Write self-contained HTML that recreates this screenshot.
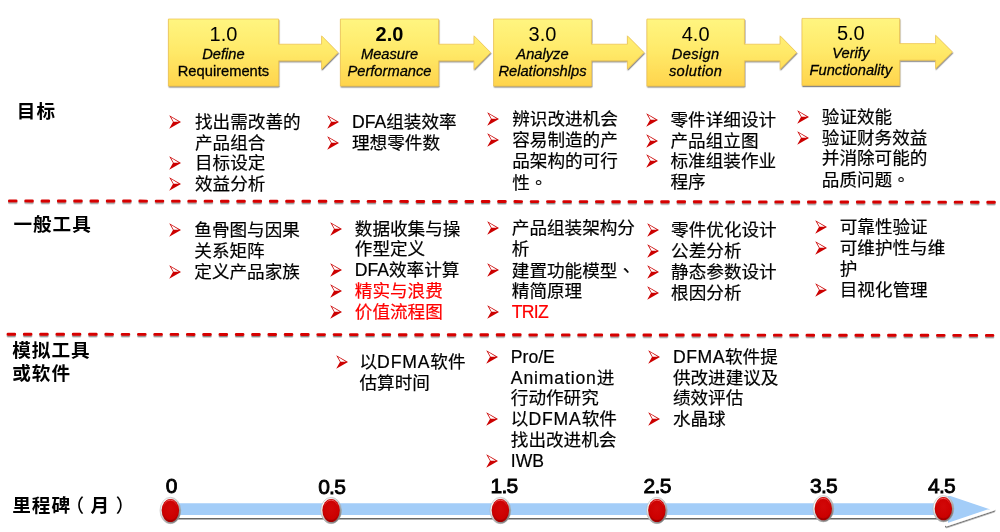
<!DOCTYPE html>
<html lang="zh-CN">
<head>
<meta charset="utf-8">
<title>DFMA 流程</title>
<style>
html,body{margin:0;padding:0;background:#fff;}
body{width:1000px;height:532px;position:relative;overflow:hidden;font-family:"Liberation Sans","Noto Sans CJK SC",sans-serif;color:#000;}
#shapes{position:absolute;left:0;top:0;}
#txt{position:absolute;left:0;top:0;width:1000px;height:532px;will-change:transform;}
.t{position:absolute;font-size:17.6px;line-height:20.8px;height:20.8px;white-space:nowrap;-webkit-text-stroke:0.2px currentColor;}
.r{color:#ff0000;}
.pl,.pr{position:relative;font-weight:500;}
.pl{left:-0.30em;}
.pr{left:0.30em;}
.w{letter-spacing:0.85px;}
.w2{letter-spacing:0.55px;}
.nr{letter-spacing:-0.7px;}
.tc{font-family:"Noto Sans CJK TC",sans-serif;}
.b{position:absolute;overflow:visible;}
.b path{fill:#cc0000;}
.b path.h{fill:#fff;}
.lab{position:absolute;font-size:18.6px;line-height:24px;height:24px;font-weight:bold;white-space:nowrap;letter-spacing:1.0px;}
.tl{position:absolute;width:60px;text-align:center;font-size:21px;line-height:24px;height:24px;font-weight:normal;-webkit-text-stroke:0.85px #000;white-space:nowrap;letter-spacing:-0.7px;}
.bx{position:absolute;text-align:center;white-space:nowrap;}
.bx .s{-webkit-text-stroke:0.3px #000;}
.bx .s.x{letter-spacing:0.35px;}
.bx .n{font-size:20px;line-height:22px;margin-top:4px;margin-bottom:0.8px;}
.bx .n.bd{font-weight:bold;}
.bx .s{font-size:14.7px;line-height:16.8px;}
</style>
</head>
<body>
<svg id="shapes" width="1000" height="532" viewBox="0 0 1000 532">
<defs>
<linearGradient id="yg" x1="0" y1="0" x2="0" y2="1">
<stop offset="0" stop-color="#fff580"/><stop offset="0.5" stop-color="#ffe968"/><stop offset="1" stop-color="#ffd44c"/>
</linearGradient>
<radialGradient id="rg" cx="0.5" cy="0.4" r="0.62">
<stop offset="0" stop-color="#d20808"/><stop offset="0.75" stop-color="#cc0000"/><stop offset="1" stop-color="#9a0000"/>
</radialGradient>
<linearGradient id="gl" x1="0" y1="0" x2="0" y2="1">
<stop offset="0" stop-color="#ff8a8a" stop-opacity="0.75"/><stop offset="0.35" stop-color="#e03030" stop-opacity="0"/><stop offset="0.7" stop-color="#a00000" stop-opacity="0"/><stop offset="1" stop-color="#800000" stop-opacity="0.6"/>
</linearGradient>
<linearGradient id="ring" x1="0.15" y1="0.1" x2="0.85" y2="0.9">
<stop offset="0" stop-color="#ffffff"/><stop offset="0.45" stop-color="#d0d0d0"/><stop offset="1" stop-color="#707070"/>
</linearGradient>
<filter id="sh" x="-10%" y="-10%" width="120%" height="130%"><feDropShadow dx="0.5" dy="1.2" stdDeviation="0.7" flood-color="#000" flood-opacity="0.55"/></filter>
<filter id="sh2" x="0" y="190" width="1000" height="160" filterUnits="userSpaceOnUse"><feDropShadow dx="0" dy="1.4" stdDeviation="0.7" flood-color="#000" flood-opacity="0.45"/></filter>
<filter id="sh3" x="-10%" y="-20%" width="120%" height="150%"><feDropShadow dx="0" dy="1.5" stdDeviation="0.6" flood-color="#000" flood-opacity="0.6"/></filter>
</defs>
<path d="M168.4 19 H278.6 V44.2 H321.6 V35.8 L338 52.5 L321.6 69.2 V60.8 H278.6 V86 H168.4 Z" fill="url(#yg)" stroke="#ecc04a" stroke-width="0.7" filter="url(#sh)"/>
<path d="M340.4 19 H438.6 V44.2 H474 V35.8 L490.6 52.5 L474 69.2 V60.8 H438.6 V86 H340.4 Z" fill="url(#yg)" stroke="#ecc04a" stroke-width="0.7" filter="url(#sh)"/>
<path d="M493.6 19 H591.4 V44.2 H627.4 V35.8 L644 52.5 L627.4 69.2 V60.8 H591.4 V86 H493.6 Z" fill="url(#yg)" stroke="#ecc04a" stroke-width="0.7" filter="url(#sh)"/>
<path d="M646.9 19 H744.4 V44.2 H780.1 V35.8 L796.6 52.5 L780.1 69.2 V60.8 H744.4 V86 H646.9 Z" fill="url(#yg)" stroke="#ecc04a" stroke-width="0.7" filter="url(#sh)"/>
<path d="M802 18.4 H899.6 V43.6 H935.6 V35.2 L952.4 51.9 L935.6 68.6 V60.2 H899.6 V85.4 H802 Z" fill="url(#yg)" stroke="#ecc04a" stroke-width="0.7" filter="url(#sh)"/>
<g filter="url(#sh2)"><line x1="9.4" y1="200.9" x2="994.4" y2="202.2" stroke="#d60000" stroke-width="2.9" stroke-linecap="round" stroke-dasharray="6.7 9.606"/></g>
<g filter="url(#sh2)"><line x1="8.0" y1="334.2" x2="992.9" y2="335.4" stroke="#d60000" stroke-width="2.9" stroke-linecap="round" stroke-dasharray="6.7 9.606"/></g>
<path d="M166 501.7 H946.5 V493.2 L993.85 509 L946.5 524.8 V516.4 H166 Z" fill="#a3cdf8" stroke="#ffffff" stroke-width="3" stroke-linejoin="round" filter="url(#sh3)"/>
<ellipse cx="170.4" cy="510.5" rx="10.4" ry="13.2" fill="url(#ring)" stroke="#aaa" stroke-width="0.5"/>
<ellipse cx="170.4" cy="510.5" rx="8.7" ry="11.6" fill="url(#rg)"/>
<ellipse cx="170.4" cy="510.5" rx="7.6" ry="10.4" fill="none" stroke="url(#gl)" stroke-width="0.9"/>
<ellipse cx="331.1" cy="510.5" rx="10.4" ry="13.2" fill="url(#ring)" stroke="#aaa" stroke-width="0.5"/>
<ellipse cx="331.1" cy="510.5" rx="8.7" ry="11.6" fill="url(#rg)"/>
<ellipse cx="331.1" cy="510.5" rx="7.6" ry="10.4" fill="none" stroke="url(#gl)" stroke-width="0.9"/>
<ellipse cx="500.4" cy="510.5" rx="10.4" ry="13.2" fill="url(#ring)" stroke="#aaa" stroke-width="0.5"/>
<ellipse cx="500.4" cy="510.5" rx="8.7" ry="11.6" fill="url(#rg)"/>
<ellipse cx="500.4" cy="510.5" rx="7.6" ry="10.4" fill="none" stroke="url(#gl)" stroke-width="0.9"/>
<ellipse cx="656.9" cy="510.5" rx="10.4" ry="13.2" fill="url(#ring)" stroke="#aaa" stroke-width="0.5"/>
<ellipse cx="656.9" cy="510.5" rx="8.7" ry="11.6" fill="url(#rg)"/>
<ellipse cx="656.9" cy="510.5" rx="7.6" ry="10.4" fill="none" stroke="url(#gl)" stroke-width="0.9"/>
<ellipse cx="823.3" cy="508.7" rx="10.4" ry="13.2" fill="url(#ring)" stroke="#aaa" stroke-width="0.5"/>
<ellipse cx="823.3" cy="508.7" rx="8.7" ry="11.6" fill="url(#rg)"/>
<ellipse cx="823.3" cy="508.7" rx="7.6" ry="10.4" fill="none" stroke="url(#gl)" stroke-width="0.9"/>
<ellipse cx="943.4" cy="508.7" rx="10.4" ry="13.2" fill="url(#ring)" stroke="#aaa" stroke-width="0.5"/>
<ellipse cx="943.4" cy="508.7" rx="8.7" ry="11.6" fill="url(#rg)"/>
<ellipse cx="943.4" cy="508.7" rx="7.6" ry="10.4" fill="none" stroke="url(#gl)" stroke-width="0.9"/>
</svg>
<div id="txt">
<div class="bx" style="left:168.4px;top:19px;width:110.2px;height:67px"><div class="n">1.0</div><div class="s"><i>Define</i></div><div class="s">Requirements</div></div>
<div class="bx" style="left:340.4px;top:19px;width:98.2px;height:67px"><div class="n bd">2.0</div><div class="s"><i>Measure</i></div><div class="s"><i>Performance</i></div></div>
<div class="bx" style="left:493.6px;top:19px;width:97.8px;height:67px"><div class="n">3.0</div><div class="s"><i>Analyze</i></div><div class="s"><i>Relationshlps</i></div></div>
<div class="bx" style="left:646.9px;top:19px;width:97.5px;height:67px"><div class="n">4.0</div><div class="s x"><i>Design</i></div><div class="s x"><i>solution</i></div></div>
<div class="bx" style="left:802px;top:18.4px;width:97.6px;height:67.0px"><div class="n">5.0</div><div class="s"><i>Verify</i></div><div class="s"><i>Functionality</i></div></div>
<div class="tl" style="left:141.30px;top:473.53px">0</div>
<div class="tl" style="left:301.70px;top:474.53px">0.5</div>
<div class="tl" style="left:474.00px;top:473.73px">1.5</div>
<div class="tl" style="left:627.10px;top:473.73px">2.5</div>
<div class="tl" style="left:793.50px;top:473.73px">3.5</div>
<div class="tl" style="left:911.50px;top:473.73px">4.5</div>
<div class="lab" style="left:16.80px;top:100.10px">目标</div>
<div class="lab" style="left:13.40px;top:212.80px">一般工具</div>
<div class="lab" style="left:12.20px;top:339.40px">模拟工具</div>
<div class="lab" style="left:12.20px;top:362.30px">或软件</div>
<div class="lab" style="left:12.20px;top:493.80px">里程碑<span class="pl">（</span>月<span class="pr">）</span></div>
<svg class="b" style="left:168.90px;top:114.85px" width="12" height="14" viewBox="0 0 12 14"><path d="M0.2 0.2 L12 7 L0.2 13.8 L4 7 Z"/><path class="h" d="M2.1 2.1 L9.9 6.65 L4.6 6.65 Z"/></svg>
<div class="t" style="left:195.00px;top:111.85px">找出需改善的</div>
<div class="t" style="left:195.00px;top:132.65px">产品组合</div>
<svg class="b" style="left:168.90px;top:156.45px" width="12" height="14" viewBox="0 0 12 14"><path d="M0.2 0.2 L12 7 L0.2 13.8 L4 7 Z"/><path class="h" d="M2.1 2.1 L9.9 6.65 L4.6 6.65 Z"/></svg>
<div class="t" style="left:195.00px;top:153.45px">目标设定</div>
<svg class="b" style="left:168.90px;top:177.25px" width="12" height="14" viewBox="0 0 12 14"><path d="M0.2 0.2 L12 7 L0.2 13.8 L4 7 Z"/><path class="h" d="M2.1 2.1 L9.9 6.65 L4.6 6.65 Z"/></svg>
<div class="t" style="left:195.00px;top:174.25px">效益分析</div>
<svg class="b" style="left:326.85px;top:114.85px" width="12" height="14" viewBox="0 0 12 14"><path d="M0.2 0.2 L12 7 L0.2 13.8 L4 7 Z"/><path class="h" d="M2.1 2.1 L9.9 6.65 L4.6 6.65 Z"/></svg>
<div class="t" style="left:352.00px;top:111.85px">DFA组装效率</div>
<svg class="b" style="left:326.85px;top:135.65px" width="12" height="14" viewBox="0 0 12 14"><path d="M0.2 0.2 L12 7 L0.2 13.8 L4 7 Z"/><path class="h" d="M2.1 2.1 L9.9 6.65 L4.6 6.65 Z"/></svg>
<div class="t" style="left:352.00px;top:132.65px">理想零件数</div>
<svg class="b" style="left:486.60px;top:112.10px" width="12" height="14" viewBox="0 0 12 14"><path d="M0.2 0.2 L12 7 L0.2 13.8 L4 7 Z"/><path class="h" d="M2.1 2.1 L9.9 6.65 L4.6 6.65 Z"/></svg>
<div class="t" style="left:512.20px;top:109.10px">辨识改进机会</div>
<svg class="b" style="left:486.60px;top:132.90px" width="12" height="14" viewBox="0 0 12 14"><path d="M0.2 0.2 L12 7 L0.2 13.8 L4 7 Z"/><path class="h" d="M2.1 2.1 L9.9 6.65 L4.6 6.65 Z"/></svg>
<div class="t" style="left:512.20px;top:129.90px">容易制造的产</div>
<div class="t" style="left:512.20px;top:150.70px">品架构的可行</div>
<div class="t" style="left:512.20px;top:171.50px">性<span class="tc" lang="zh-TW">。</span></div>
<svg class="b" style="left:645.50px;top:112.85px" width="12" height="14" viewBox="0 0 12 14"><path d="M0.2 0.2 L12 7 L0.2 13.8 L4 7 Z"/><path class="h" d="M2.1 2.1 L9.9 6.65 L4.6 6.65 Z"/></svg>
<div class="t" style="left:670.50px;top:109.85px">零件详细设计</div>
<svg class="b" style="left:645.50px;top:133.65px" width="12" height="14" viewBox="0 0 12 14"><path d="M0.2 0.2 L12 7 L0.2 13.8 L4 7 Z"/><path class="h" d="M2.1 2.1 L9.9 6.65 L4.6 6.65 Z"/></svg>
<div class="t" style="left:670.50px;top:130.65px">产品组立图</div>
<svg class="b" style="left:645.50px;top:154.45px" width="12" height="14" viewBox="0 0 12 14"><path d="M0.2 0.2 L12 7 L0.2 13.8 L4 7 Z"/><path class="h" d="M2.1 2.1 L9.9 6.65 L4.6 6.65 Z"/></svg>
<div class="t" style="left:670.50px;top:151.45px">标准组装作业</div>
<div class="t" style="left:670.50px;top:172.25px">程序</div>
<svg class="b" style="left:796.75px;top:109.85px" width="12" height="14" viewBox="0 0 12 14"><path d="M0.2 0.2 L12 7 L0.2 13.8 L4 7 Z"/><path class="h" d="M2.1 2.1 L9.9 6.65 L4.6 6.65 Z"/></svg>
<div class="t" style="left:821.80px;top:106.85px">验证效能</div>
<svg class="b" style="left:796.75px;top:130.65px" width="12" height="14" viewBox="0 0 12 14"><path d="M0.2 0.2 L12 7 L0.2 13.8 L4 7 Z"/><path class="h" d="M2.1 2.1 L9.9 6.65 L4.6 6.65 Z"/></svg>
<div class="t" style="left:821.80px;top:127.65px">验证财务效益</div>
<div class="t" style="left:821.80px;top:148.45px">并消除可能的</div>
<div class="t" style="left:821.80px;top:169.25px">品质问题<span class="tc" lang="zh-TW">。</span></div>
<svg class="b" style="left:168.90px;top:223.00px" width="12" height="14" viewBox="0 0 12 14"><path d="M0.2 0.2 L12 7 L0.2 13.8 L4 7 Z"/><path class="h" d="M2.1 2.1 L9.9 6.65 L4.6 6.65 Z"/></svg>
<div class="t" style="left:194.30px;top:220.00px">鱼骨图与因果</div>
<div class="t" style="left:194.30px;top:240.80px">关系矩阵</div>
<svg class="b" style="left:168.90px;top:264.60px" width="12" height="14" viewBox="0 0 12 14"><path d="M0.2 0.2 L12 7 L0.2 13.8 L4 7 Z"/><path class="h" d="M2.1 2.1 L9.9 6.65 L4.6 6.65 Z"/></svg>
<div class="t" style="left:194.30px;top:261.60px">定义产品家族</div>
<svg class="b" style="left:329.80px;top:221.70px" width="12" height="14" viewBox="0 0 12 14"><path d="M0.2 0.2 L12 7 L0.2 13.8 L4 7 Z"/><path class="h" d="M2.1 2.1 L9.9 6.65 L4.6 6.65 Z"/></svg>
<div class="t" style="left:354.80px;top:218.70px">数据收集与操</div>
<div class="t" style="left:354.80px;top:239.40px">作型定义</div>
<svg class="b" style="left:329.80px;top:263.10px" width="12" height="14" viewBox="0 0 12 14"><path d="M0.2 0.2 L12 7 L0.2 13.8 L4 7 Z"/><path class="h" d="M2.1 2.1 L9.9 6.65 L4.6 6.65 Z"/></svg>
<div class="t" style="left:354.80px;top:260.10px">DFA效率计算</div>
<svg class="b" style="left:329.80px;top:283.80px" width="12" height="14" viewBox="0 0 12 14"><path d="M0.2 0.2 L12 7 L0.2 13.8 L4 7 Z"/><path class="h" d="M2.1 2.1 L9.9 6.65 L4.6 6.65 Z"/></svg>
<div class="t r" style="left:354.80px;top:280.80px">精实与浪费</div>
<svg class="b" style="left:329.80px;top:304.50px" width="12" height="14" viewBox="0 0 12 14"><path d="M0.2 0.2 L12 7 L0.2 13.8 L4 7 Z"/><path class="h" d="M2.1 2.1 L9.9 6.65 L4.6 6.65 Z"/></svg>
<div class="t r" style="left:354.80px;top:301.50px">价值流程图</div>
<svg class="b" style="left:486.60px;top:220.60px" width="12" height="14" viewBox="0 0 12 14"><path d="M0.2 0.2 L12 7 L0.2 13.8 L4 7 Z"/><path class="h" d="M2.1 2.1 L9.9 6.65 L4.6 6.65 Z"/></svg>
<div class="t" style="left:511.80px;top:217.60px">产品组装架构分</div>
<div class="t" style="left:511.80px;top:238.60px">析</div>
<svg class="b" style="left:486.60px;top:262.60px" width="12" height="14" viewBox="0 0 12 14"><path d="M0.2 0.2 L12 7 L0.2 13.8 L4 7 Z"/><path class="h" d="M2.1 2.1 L9.9 6.65 L4.6 6.65 Z"/></svg>
<div class="t" style="left:511.80px;top:259.60px">建置功能模型<span class="tc" lang="zh-TW">、</span></div>
<div class="t" style="left:511.80px;top:280.60px">精简原理</div>
<svg class="b" style="left:486.60px;top:304.60px" width="12" height="14" viewBox="0 0 12 14"><path d="M0.2 0.2 L12 7 L0.2 13.8 L4 7 Z"/><path class="h" d="M2.1 2.1 L9.9 6.65 L4.6 6.65 Z"/></svg>
<div class="t r" style="left:511.80px;top:301.60px"><span class="nr">TRIZ</span></div>
<svg class="b" style="left:646.60px;top:222.90px" width="12" height="14" viewBox="0 0 12 14"><path d="M0.2 0.2 L12 7 L0.2 13.8 L4 7 Z"/><path class="h" d="M2.1 2.1 L9.9 6.65 L4.6 6.65 Z"/></svg>
<div class="t" style="left:671.10px;top:219.90px">零件优化设计</div>
<svg class="b" style="left:646.60px;top:243.90px" width="12" height="14" viewBox="0 0 12 14"><path d="M0.2 0.2 L12 7 L0.2 13.8 L4 7 Z"/><path class="h" d="M2.1 2.1 L9.9 6.65 L4.6 6.65 Z"/></svg>
<div class="t" style="left:671.10px;top:240.90px">公差分析</div>
<svg class="b" style="left:646.60px;top:264.90px" width="12" height="14" viewBox="0 0 12 14"><path d="M0.2 0.2 L12 7 L0.2 13.8 L4 7 Z"/><path class="h" d="M2.1 2.1 L9.9 6.65 L4.6 6.65 Z"/></svg>
<div class="t" style="left:671.10px;top:261.90px">静态参数设计</div>
<svg class="b" style="left:646.60px;top:285.90px" width="12" height="14" viewBox="0 0 12 14"><path d="M0.2 0.2 L12 7 L0.2 13.8 L4 7 Z"/><path class="h" d="M2.1 2.1 L9.9 6.65 L4.6 6.65 Z"/></svg>
<div class="t" style="left:671.10px;top:282.90px">根因分析</div>
<svg class="b" style="left:814.70px;top:219.85px" width="12" height="14" viewBox="0 0 12 14"><path d="M0.2 0.2 L12 7 L0.2 13.8 L4 7 Z"/><path class="h" d="M2.1 2.1 L9.9 6.65 L4.6 6.65 Z"/></svg>
<div class="t" style="left:839.70px;top:216.85px">可靠性验证</div>
<svg class="b" style="left:814.70px;top:240.85px" width="12" height="14" viewBox="0 0 12 14"><path d="M0.2 0.2 L12 7 L0.2 13.8 L4 7 Z"/><path class="h" d="M2.1 2.1 L9.9 6.65 L4.6 6.65 Z"/></svg>
<div class="t" style="left:839.70px;top:237.85px">可维护性与维</div>
<div class="t" style="left:839.70px;top:258.85px">护</div>
<svg class="b" style="left:814.70px;top:282.85px" width="12" height="14" viewBox="0 0 12 14"><path d="M0.2 0.2 L12 7 L0.2 13.8 L4 7 Z"/><path class="h" d="M2.1 2.1 L9.9 6.65 L4.6 6.65 Z"/></svg>
<div class="t" style="left:839.70px;top:279.85px">目视化管理</div>
<svg class="b" style="left:335.70px;top:354.60px" width="12" height="14" viewBox="0 0 12 14"><path d="M0.2 0.2 L12 7 L0.2 13.8 L4 7 Z"/><path class="h" d="M2.1 2.1 L9.9 6.65 L4.6 6.65 Z"/></svg>
<div class="t" style="left:359.50px;top:351.60px">以<span class="w">DFMA</span>软件</div>
<div class="t" style="left:359.50px;top:372.60px">估算时间</div>
<svg class="b" style="left:485.90px;top:349.85px" width="12" height="14" viewBox="0 0 12 14"><path d="M0.2 0.2 L12 7 L0.2 13.8 L4 7 Z"/><path class="h" d="M2.1 2.1 L9.9 6.65 L4.6 6.65 Z"/></svg>
<div class="t" style="left:510.80px;top:346.85px">Pro/E</div>
<div class="t" style="left:510.80px;top:367.65px"><span class="w">Animation</span>进</div>
<div class="t" style="left:510.80px;top:388.45px">行动作研究</div>
<svg class="b" style="left:485.90px;top:412.25px" width="12" height="14" viewBox="0 0 12 14"><path d="M0.2 0.2 L12 7 L0.2 13.8 L4 7 Z"/><path class="h" d="M2.1 2.1 L9.9 6.65 L4.6 6.65 Z"/></svg>
<div class="t" style="left:510.80px;top:409.25px">以<span class="w">DFMA</span>软件</div>
<div class="t" style="left:510.80px;top:430.05px">找出改进机会</div>
<svg class="b" style="left:485.90px;top:453.85px" width="12" height="14" viewBox="0 0 12 14"><path d="M0.2 0.2 L12 7 L0.2 13.8 L4 7 Z"/><path class="h" d="M2.1 2.1 L9.9 6.65 L4.6 6.65 Z"/></svg>
<div class="t" style="left:510.80px;top:450.85px">IWB</div>
<svg class="b" style="left:648.00px;top:349.85px" width="12" height="14" viewBox="0 0 12 14"><path d="M0.2 0.2 L12 7 L0.2 13.8 L4 7 Z"/><path class="h" d="M2.1 2.1 L9.9 6.65 L4.6 6.65 Z"/></svg>
<div class="t" style="left:672.90px;top:346.85px"><span class="w2">DFMA</span>软件提</div>
<div class="t" style="left:672.90px;top:367.65px">供改进建议及</div>
<div class="t" style="left:672.90px;top:388.45px">绩效评估</div>
<svg class="b" style="left:648.00px;top:412.25px" width="12" height="14" viewBox="0 0 12 14"><path d="M0.2 0.2 L12 7 L0.2 13.8 L4 7 Z"/><path class="h" d="M2.1 2.1 L9.9 6.65 L4.6 6.65 Z"/></svg>
<div class="t" style="left:672.90px;top:409.25px">水晶球</div>
</div>
</body>
</html>
